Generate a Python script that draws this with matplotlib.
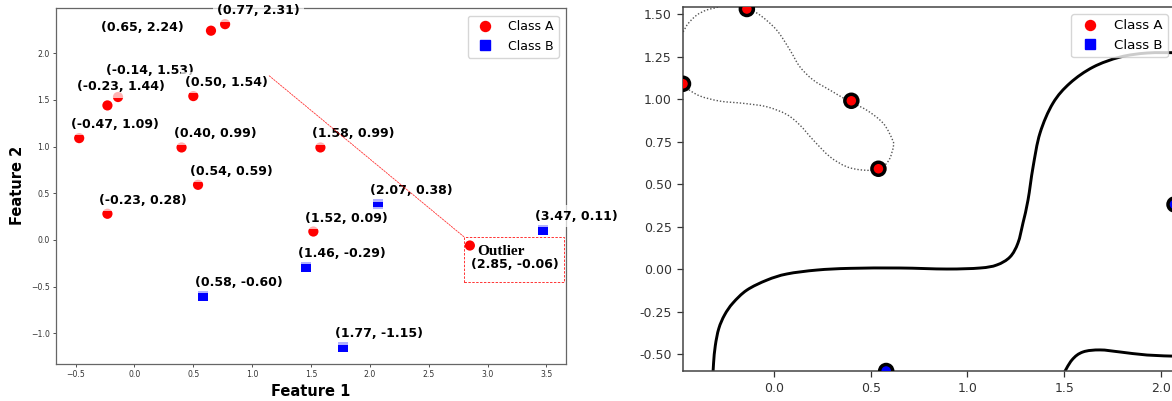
import matplotlib
matplotlib.use("Agg")
import matplotlib.pyplot as plt
from matplotlib.patches import Rectangle, PathPatch
from matplotlib.path import Path
from matplotlib.lines import Line2D
from matplotlib.ticker import MultipleLocator, FormatStrFormatter
import numpy as np

# ---------------- data ----------------
class_a_x = [0.65, 0.77, -0.14, -0.23, 0.50, -0.47, 0.40, 0.54, -0.23, 1.58, 1.52, 2.85]
class_a_y = [2.24, 2.31, 1.53, 1.44, 1.54, 1.09, 0.99, 0.59, 0.28, 0.99, 0.09, -0.06]
class_b_x = [2.07, 1.46, 0.58, 1.77, 3.47]
class_b_y = [0.38, -0.29, -0.60, -1.15, 0.11]
outlier_x, outlier_y = 2.85, -0.06

# support vectors shown in the zoomed panel
sv_x = [-0.47, -0.14, 0.40, 0.54, 0.58, 2.07]
sv_y = [1.09, 1.53, 0.99, 0.59, -0.60, 0.38]
sv_cls = ["A", "A", "A", "A", "B", "B"]

# decision boundary (level 0)
bound1_x = [-0.316, -0.312, -0.303, -0.285, -0.255, -0.212, -0.140, -0.036, 0.067, 0.222,
            0.393, 0.651, 0.894, 1.065, 1.152, 1.220, 1.261, 1.287, 1.313, 1.339,
            1.375, 1.442, 1.530, 1.649, 1.788, 1.928, 2.080]
bound1_y = [-0.640, -0.553, -0.450, -0.350, -0.270, -0.200, -0.124, -0.065, -0.029, -0.006,
            0.004, 0.006, 0.000, 0.006, 0.024, 0.071, 0.153, 0.271, 0.406, 0.600,
            0.800, 0.976, 1.094, 1.188, 1.247, 1.271, 1.273]
bound2_x = [1.490, 1.540, 1.597, 1.685, 1.788, 1.928, 2.080]
bound2_y = [-0.630, -0.535, -0.488, -0.476, -0.488, -0.506, -0.513]

# margin contours (dotted)
margin1_x = [-0.480, -0.469, -0.443, -0.399, -0.348, -0.296, -0.250]
margin1_y = [1.380, 1.396, 1.445, 1.494, 1.524, 1.539, 1.560]
margin2_x = [-0.200, -0.140, -0.072, 0.014, 0.083, 0.134, 0.203, 0.289, 0.393, 0.479,
             0.565, 0.613, 0.617, 0.599, 0.574, 0.543, 0.462, 0.376, 0.289, 0.203,
             0.134, 0.065, -0.038, -0.159, -0.279, -0.382, -0.451, -0.469, -0.490]
margin2_y = [1.570, 1.535, 1.494, 1.406, 1.288, 1.190, 1.112, 1.053, 0.984, 0.935,
             0.857, 0.759, 0.720, 0.651, 0.612, 0.586, 0.582, 0.602, 0.661, 0.759,
             0.847, 0.910, 0.955, 0.975, 0.988, 1.018, 1.063, 1.082, 1.095]

# ---------------- layout constants ----------------
W, H = 1172, 401
label_offsets = {  # (dx px, dy px, ha)
    (0.65, 2.24): (-27, 0, "right"),
    (-0.14, 1.53): (-12.5, 23, "left"),
    (-0.23, 1.44): (-30.5, 15, "left"),
}
default_offset = (-8, 10, "left")
LINK_FROM = (1.145, 1.757)


def smooth_path(xs, ys):
    """Catmull-Rom curve through the traced vertices, as cubic Bezier path."""
    p = np.column_stack([xs, ys]).astype(float)
    ext = np.vstack([p[0], p, p[-1]])
    verts = [p[0]]
    codes = [Path.MOVETO]
    for i in range(1, len(ext) - 2):
        p0, p1, p2, p3 = ext[i - 1], ext[i], ext[i + 1], ext[i + 2]
        verts += [p1 + (p2 - p0) / 6.0, p2 - (p3 - p1) / 6.0, p2]
        codes += [Path.CURVE4] * 3
    return Path(np.array(verts), codes)


fig = plt.figure(figsize=(W / 100, H / 100), dpi=100)
ax1 = fig.add_axes([56 / W, (H - 363.5) / H, 510 / W, 355.5 / H])
ax2 = fig.add_axes([683 / W, (H - 371) / H, 491.5 / W, 363.7 / H])

# ---------------- left panel ----------------
ax1.scatter(class_a_x, class_a_y, s=54, c="red", marker="o", zorder=2, edgecolors="none")
ax1.scatter(class_b_x, class_b_y, s=52, c="blue", marker="s", zorder=2, edgecolors="none")

all_x = class_a_x + class_b_x
all_y = class_a_y + class_b_y
xr = max(all_x) - min(all_x)
yr = max(all_y) - min(all_y)
ax1.set_xlim(min(all_x) - 0.05 * xr, max(all_x) + 0.05 * xr)
ax1.set_ylim(min(all_y) - 0.05 * yr, max(all_y) + 0.05 * yr)
ax1.xaxis.set_major_locator(MultipleLocator(0.5))
ax1.yaxis.set_major_locator(MultipleLocator(0.5))

for x, y in zip(all_x, all_y):
    if (x, y) == (outlier_x, outlier_y):
        continue
    dx, dy, ha = label_offsets.get((x, y), default_offset)
    ax1.annotate(f"({x:.2f}, {y:.2f})", (x, y), xytext=(dx, dy),
                 textcoords="offset pixels", ha=ha, va="baseline",
                 fontsize=9, fontweight="bold", color="black", zorder=4,
                 annotation_clip=False,
                 bbox=dict(boxstyle="square,pad=0.35", fc="white", ec="none", alpha=0.7))

# outlier annotation
ax1.annotate("Outlier", (outlier_x, outlier_y), xytext=(7, -9.5),
             textcoords="offset pixels", ha="left", va="baseline",
             fontsize=11, fontweight="bold", family="Liberation Serif", zorder=4)
ax1.annotate(f"({outlier_x:.2f}, {outlier_y:.2f})", (outlier_x, outlier_y), xytext=(1, -22),
             textcoords="offset pixels", ha="left", va="baseline",
             fontsize=9, fontweight="bold", zorder=4)

disp = ax1.transData.transform((outlier_x, outlier_y))
inv = ax1.transData.inverted()
c_lo = inv.transform(disp + np.array([-5.4, -36.0]))
c_hi = inv.transform(disp + np.array([94.6, 8.3]))
ax1.add_patch(Rectangle((c_lo[0], c_lo[1]), c_hi[0] - c_lo[0], c_hi[1] - c_lo[1],
                        fill=False, ec="red", lw=0.7, ls=(0, (2.5, 1.5)), alpha=0.8, zorder=3))
ax1.annotate("", xy=(c_lo[0], c_hi[1]), xytext=LINK_FROM,
             arrowprops=dict(arrowstyle="-", color="red", lw=0.6, ls=(0, (2, 1.5)),
                             alpha=0.8, shrinkA=0, shrinkB=0), zorder=5)

ax1.set_xlabel("Feature 1", fontsize=10.5, fontweight="bold", labelpad=4)
ax1.set_ylabel("Feature 2", fontsize=10.5, fontweight="bold", labelpad=4)
ax1.tick_params(labelsize=5.6, length=2.5, width=0.6, colors="#333333", pad=2)
for sp in ax1.spines.values():
    sp.set_color("#666666")
    sp.set_linewidth(0.9)

h_a = Line2D([], [], ls="none", marker="o", color="red", markersize=7.2)
h_b = Line2D([], [], ls="none", marker="s", color="blue", markersize=7.0)
ax1.legend([h_a, h_b], ["Class A", "Class B"], loc="upper right", fontsize=9,
           borderaxespad=0.6)

# ---------------- right panel (zoom) ----------------
for bx, by in [(bound1_x, bound1_y), (bound2_x, bound2_y)]:
    ax2.add_patch(PathPatch(smooth_path(bx, by), fill=False, ec="black", lw=2.1,
                            capstyle="round", zorder=2))
for mx, my in [(margin1_x, margin1_y), (margin2_x, margin2_y)]:
    ax2.add_patch(PathPatch(smooth_path(mx, my), fill=False, ec="#555555", lw=1.0,
                            ls=(0, (1, 1.4)), zorder=2))

sv_colors = ["red" if c == "A" else "blue" for c in sv_cls]
ax2.scatter(sv_x, sv_y, s=88, c=sv_colors, marker="o", edgecolors="black",
            linewidths=2.5, zorder=3)

ax2.set_xlim(-0.47, 2.07)
ax2.set_ylim(-0.60, 1.54)
ax2.xaxis.set_major_locator(MultipleLocator(0.5))
ax2.xaxis.set_major_formatter(FormatStrFormatter("%.1f"))
ax2.yaxis.set_major_locator(MultipleLocator(0.25))
ax2.yaxis.set_major_formatter(FormatStrFormatter("%.2f"))
ax2.tick_params(labelsize=9, length=4.5, width=0.9, colors="#333333")
for sp in ax2.spines.values():
    sp.set_color("#444444")
    sp.set_linewidth(1.1)

ax2.legend([h_a, h_b], ["Class A", "Class B"], loc="upper right", fontsize=9.6,
           borderaxespad=0.5)

fig.savefig("out.png", dpi=100)
